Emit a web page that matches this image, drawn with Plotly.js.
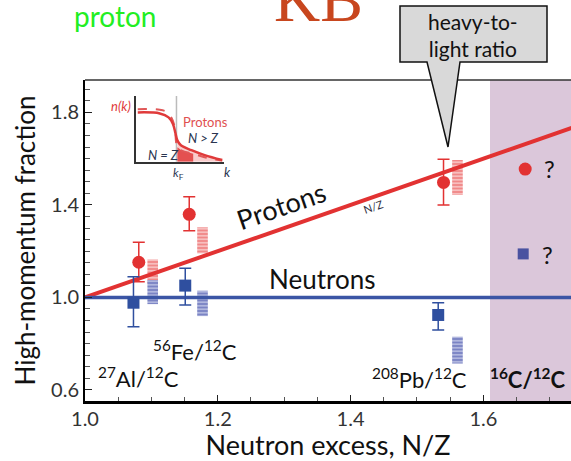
<!DOCTYPE html>
<html>
<head>
<meta charset="utf-8">
<script src="https://cdn.plot.ly/plotly-3.0.1.min.js"></script>
<style>html,body{margin:0;padding:0;background:#fff;}#chart{width:571px;height:461px;}</style>
</head>
<body>
<div id="chart"></div>
<script>
// ---------- data ----------
var nuclei = ['27Al/12C', '56Fe/12C', '208Pb/12C'];
var protonX = [1.081, 1.157, 1.540];
var protonY = [1.152, 1.359, 1.497];
var protonHi = [1.238, 1.435, 1.597];
var protonLo = [1.068, 1.288, 1.400];
var neutronX = [1.073, 1.151, 1.532];
var neutronY = [0.977, 1.051, 0.924];
var neutronHi = [1.089, 1.126, 0.977];
var neutronLo = [0.873, 0.967, 0.859];
var theoryX = [1.102, 1.177, 1.561];
var protonTheoryHi = [1.164, 1.303, 1.594];
var protonTheoryLo = [1.060, 1.190, 1.443];
var neutronTheoryHi = [1.075, 1.029, 0.830];
var neutronTheoryLo = [0.971, 0.919, 0.714];
var predX = [1.663];
var predProtonY = [1.555];
var predNeutronX = [1.660];
var predNeutronY = [1.188];
var lineX = [1.0, 1.75];
var protonLineY = [1.0, 1.75];   // N/Z
var neutronLineY = [1.0, 1.0];
var xTicks = [1.0, 1.2, 1.4, 1.6];
var xTickText = ['1.0', '1.2', '1.4', '1.6'];
var yTicks = [0.6, 1.0, 1.4, 1.8];
var yTickText = ['0.6', '1.0', '1.4', '1.8'];
// inset n(k) sketch
var insetK = [0.02, 0.27, 0.37, 0.42, 0.45, 0.47, 0.51, 0.63, 0.78, 0.98];
var insetSolid = [0.75, 0.735, 0.675, 0.575, 0.425, 0.325, 0.25, 0.175, 0.10, 0.025];
var insetDashK = [0.02, 0.27, 0.36, 0.41, 0.44, 0.47, 0.52, 0.65, 0.80, 0.98];
var insetDashed = [0.80, 0.79, 0.75, 0.65, 0.525, 0.22, 0.17, 0.12, 0.06, 0.015];
var kF = 0.46;

// ---------- helpers ----------
var W = 571, H = 461, ML = 85, MR = 0, MT = 80, MB = 60;
function pxX(p) { return (p - ML) / (W - ML - MR); }
function pxY(p) { return (H - MB - p) / (H - MT - MB); }
function diff(a, b) { return a.map(function (v, i) { return v - b[i]; }); }

var FONT = 'Lato, "Open Sans", sans-serif';
var RED = '#e23232', BLUE = '#2f4f9f';

var traces = [
  { x: lineX, y: protonLineY, mode: 'lines', line: { color: RED, width: 4 }, xaxis: 'x', yaxis: 'y' },
  { x: lineX, y: neutronLineY, mode: 'lines', line: { color: '#3b55a5', width: 3.5 } },
  { type: 'bar', x: theoryX, base: protonTheoryLo, y: diff(protonTheoryHi, protonTheoryLo), width: 0.016,
    marker: { color: '#f08a8a', line: { width: 0 },
      pattern: { shape: '-', fgcolor: '#fbd6d6', bgcolor: '#f08888', size: 3.5, solidity: 0.35, fillmode: 'replace' } } },
  { type: 'bar', x: theoryX, base: neutronTheoryLo, y: diff(neutronTheoryHi, neutronTheoryLo), width: 0.016,
    marker: { color: '#7d86c6', line: { width: 0 },
      pattern: { shape: '-', fgcolor: '#c9cdea', bgcolor: '#7b84c4', size: 3.5, solidity: 0.35, fillmode: 'replace' } } },
  { x: protonX, y: protonY, mode: 'markers', marker: { symbol: 'circle', size: 13, color: RED },
    error_y: { type: 'data', symmetric: false, array: diff(protonHi, protonY), arrayminus: diff(protonY, protonLo),
      color: RED, thickness: 1.5, width: 6 } },
  { x: neutronX, y: neutronY, mode: 'markers', marker: { symbol: 'square', size: 12, color: BLUE },
    error_y: { type: 'data', symmetric: false, array: diff(neutronHi, neutronY), arrayminus: diff(neutronY, neutronLo),
      color: BLUE, thickness: 1.5, width: 6 } },
  { x: predX, y: predProtonY, mode: 'markers', marker: { symbol: 'circle', size: 13, color: RED } },
  { x: predNeutronX, y: predNeutronY, mode: 'markers', marker: { symbol: 'square', size: 11, color: '#4a52a0' } },
  // inset
  { x: insetK.slice(5), y: insetSolid.slice(5), xaxis: 'x2', yaxis: 'y2', mode: 'lines', line: { width: 0 },
    fill: 'tozeroy', fillcolor: '#f9cccc' },
  { x: insetDashK.slice(5, 8), y: insetDashed.slice(5, 8), xaxis: 'x2', yaxis: 'y2', mode: 'lines', line: { width: 0 },
    fill: 'tozeroy', fillcolor: '#e45050' },
  { x: insetDashK, y: insetDashed, xaxis: 'x2', yaxis: 'y2', mode: 'lines',
    line: { color: '#e05858', width: 2, dash: 'dash', shape: 'spline' } },
  { x: insetK, y: insetSolid, xaxis: 'x2', yaxis: 'y2', mode: 'lines',
    line: { color: '#e03a3a', width: 2.5, shape: 'spline' } }
];

function ann(text, px, py, size, opts) {
  var a = { text: text, x: pxX(px), y: pxY(py), xref: 'paper', yref: 'paper', showarrow: false,
    font: { family: FONT, size: size, color: '#111' }, xanchor: 'center', yanchor: 'middle' };
  if (opts) { for (var k in opts) { if (k === 'font') { for (var f in opts.font) a.font[f] = opts.font[f]; } else a[k] = opts[k]; } }
  return a;
}

var annotations = [
  ann('Protons', 281, 205, 27, { textangle: -19 }),
  ann('N/Z', 373, 206, 11, { textangle: -19, font: { color: '#334' } }),
  ann('Neutrons', 322, 279, 26),
  ann('<sup>56</sup>Fe/<sup>12</sup>C', 195, 350, 22),
  ann('<sup>27</sup>Al/<sup>12</sup>C', 138, 377, 22),
  ann('<sup>208</sup>Pb/<sup>12</sup>C', 419, 378, 22),
  ann('<b><sup>16</sup>C/<sup>12</sup>C</b>', 528, 378, 22),
  ann('?', 549, 168, 24),
  ann('?', 547, 255, 24),
  ann('heavy-to-<br>light ratio', 473, 35, 21),
  ann('proton', 115, 16, 28, { font: { color: '#22ee22' } }),
  ann('KB', 318, 0, 64, { font: { family: '"Liberation Serif", serif', color: '#c8461e' } }),
  // inset labels
  ann('<i>n(k)</i>', 121, 106, 13, { font: { color: '#e03a3a' } }),
  ann('Protons', 205, 122, 13, { font: { color: '#e05050' } }),
  ann('<i>N > Z</i>', 203, 138, 13, { font: { color: '#2a3550' } }),
  ann('<i>N = Z</i>', 163, 155, 13, { font: { color: '#2a3550' } }),
  ann('<i>k</i><sub>F</sub>', 178, 173, 12, { font: { color: '#2a3550' } }),
  ann('<i>k</i>', 227, 172, 13, { font: { color: '#2a3550' } })
];

var bx0 = pxX(400), bx1 = pxX(547), by0 = pxY(6), by1 = pxY(62);
var calloutPath = 'M' + bx0 + ',' + by0 + ' L' + bx1 + ',' + by0 + ' L' + bx1 + ',' + by1 +
  ' L' + pxX(460) + ',' + by1 + ' L' + pxX(448) + ',' + pxY(147) + ' L' + pxX(427) + ',' + by1 +
  ' L' + bx0 + ',' + by1 + ' Z';

var shapes = [
  { type: 'rect', xref: 'x', yref: 'paper', x0: 1.61, x1: 1.8, y0: 0, y1: 1, fillcolor: '#dbc7da', line: { width: 0 }, layer: 'below' },
  { type: 'line', xref: 'paper', yref: 'paper', x0: 0, x1: 1, y0: 1, y1: 1, line: { color: '#333', width: 1.5 } },
  { type: 'path', xref: 'paper', yref: 'paper', path: calloutPath, fillcolor: '#d9d9d9', line: { color: '#111', width: 1.5 } },
  { type: 'line', xref: 'x2', yref: 'y2', x0: kF, x1: kF, y0: 0, y1: 1, line: { color: '#bbbbbb', width: 1.5 }, layer: 'below' }
];

var layout = {
  width: W, height: H,
  margin: { l: ML, r: MR, t: MT, b: MB },
  paper_bgcolor: '#ffffff', plot_bgcolor: 'rgba(0,0,0,0)',
  showlegend: false, hovermode: false, barmode: 'overlay',
  font: { family: FONT },
  xaxis: {
    range: [1.0, 1.732], tickvals: xTicks, ticktext: xTickText, ticks: 'inside', ticklen: 6, tickcolor: '#222',
    minor: { dtick: 0.05, tick0: 1.0, ticks: 'inside', ticklen: 4, tickcolor: '#555' },
    showline: true, linecolor: '#000', linewidth: 3, showgrid: false, zeroline: false,
    tickfont: { family: FONT, size: 20, color: '#333' }, ticklabelstandoff: -2,
    title: { text: 'Neutron excess, N/Z', font: { family: FONT, size: 27, color: '#111' }, standoff: 10 }
  },
  yaxis: {
    range: [0.552, 1.94], tickvals: yTicks, ticktext: yTickText, ticks: 'inside', ticklen: 7, tickcolor: '#222',
    minor: { dtick: 0.05, tick0: 0.6, ticks: 'inside', ticklen: 5, tickcolor: '#555' },
    showline: true, linecolor: '#000', linewidth: 2, showgrid: false, zeroline: false,
    tickfont: { family: FONT, size: 20, color: '#333' },
    title: { text: 'High-momentum fraction', font: { family: FONT, size: 26, color: '#111' }, standoff: 8 }
  },
  xaxis2: { domain: [pxX(136), pxX(224)], anchor: 'y2', range: [0, 1], showline: true, linecolor: '#333', linewidth: 2,
    showticklabels: false, ticks: '', showgrid: false, zeroline: false },
  yaxis2: { domain: [pxY(161.7), pxY(96)], anchor: 'x2', range: [0, 1], showline: true, linecolor: '#333', linewidth: 2,
    showticklabels: false, ticks: '', showgrid: false, zeroline: false },
  shapes: shapes,
  annotations: annotations
};

Plotly.newPlot('chart', traces, layout, { displayModeBar: false, staticPlot: true });
</script>
</body>
</html>
